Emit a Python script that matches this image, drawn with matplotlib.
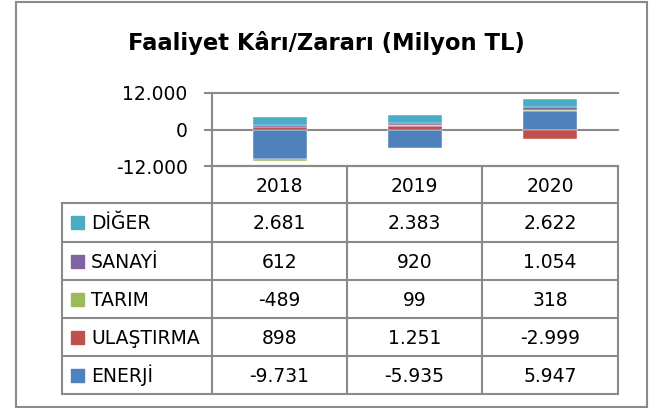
import matplotlib
matplotlib.use("Agg")
import matplotlib.pyplot as plt
from matplotlib.lines import Line2D
from matplotlib.patches import Rectangle
import numpy as np

plt.rcParams["font.family"] = ["DejaVu Sans"]

years = ["2018", "2019", "2020"]
sectors = ["ENERJİ", "ULAŞTIRMA", "TARIM", "SANAYİ", "DİĞER"]
enerji = [-9731, -5935, 5947]
ulastirma = [898, 1251, -2999]
tarim = [-489, 99, 318]
sanayi = [612, 920, 1054]
diger = [2681, 2383, 2622]
colors = ["#4F81BD", "#C0504D", "#9BBB59", "#8064A2", "#4BACC6"]
yticks = [-12000, 0, 12000]
title = "Faaliyet Kârı/Zararı (Milyon TL)"

series = [enerji, ulastirma, tarim, sanayi, diger]

W, H = 655, 408
fig = plt.figure(figsize=(W / 100, H / 100), dpi=100)
grid_c = "#8a8a8a"
fs = 13.5


def fx(x):
    return x / W


def fy(y):
    return 1 - y / H


def fmt(v):
    return f"{v:,}".replace(",", ".")


# outer frame
fig.add_artist(Rectangle((fx(16), fy(407)), fx(647) - fx(16), fy(2) - fy(407),
                         transform=fig.transFigure, fill=False,
                         edgecolor="#8a8a8a", lw=1.5))

fig.text(fx(326.5), fy(50), title, ha="center", va="baseline",
         fontsize=16.3, fontweight="bold")

# plot area
x_left, x_right = 212, 618
y_top, y_bot = 93, 166
ax = fig.add_axes([fx(x_left), fy(y_bot), fx(x_right) - fx(x_left), fy(y_top) - fy(y_bot)])
ax.set_xlim(-0.5, len(years) - 0.5)
ax.set_ylim(-12000, 12000)
for s in ["top", "right", "bottom"]:
    ax.spines[s].set_visible(False)
ax.spines["left"].set_color(grid_c)
ax.spines["left"].set_linewidth(1.5)
ax.set_xticks([])
ax.set_yticks(yticks)
ax.set_yticklabels([fmt(t) for t in yticks], fontsize=fs)
ax.tick_params(axis="y", length=5.5, width=1.5, color=grid_c, pad=12)
for t in yticks:
    ax.axhline(t, color=grid_c, lw=1.5, zorder=0, clip_on=False)

x = np.arange(len(years))
pos_base = np.zeros(len(years))
neg_base = np.zeros(len(years))
for vals, c in zip(series, colors):
    vals = np.array(vals, dtype=float)
    bottom = np.where(vals >= 0, pos_base, neg_base)
    ax.bar(x, vals, bottom=bottom, width=0.4, color=c, edgecolor="white",
           linewidth=0.3, zorder=2)
    pos_base = pos_base + np.where(vals >= 0, vals, 0)
    neg_base = neg_base + np.where(vals < 0, vals, 0)

# data table
col_edges = [212, 347, 482, 618]
row_edges = [166, 203, 242, 280, 318, 356, 394]
label_left = 62


def hline(y, x0, x1):
    fig.add_artist(Line2D([fx(x0), fx(x1)], [fy(y), fy(y)], transform=fig.transFigure,
                          color=grid_c, lw=1.5))


def vline(x, y0, y1):
    fig.add_artist(Line2D([fx(x), fx(x)], [fy(y0), fy(y1)], transform=fig.transFigure,
                          color=grid_c, lw=1.5))


hline(row_edges[0], col_edges[0], col_edges[-1])
for y in row_edges[1:]:
    hline(y, label_left, col_edges[-1])
vline(label_left, row_edges[1], row_edges[-1])
for xe in col_edges:
    vline(xe, row_edges[0], row_edges[-1])

for i, yr in enumerate(years):
    cx = (col_edges[i] + col_edges[i + 1]) / 2
    base = (row_edges[0] + row_edges[1]) / 2 + 7
    fig.text(fx(cx), fy(base), yr, ha="center", va="baseline", fontsize=fs)

# table rows top-to-bottom: reverse series order
for r, k in enumerate(reversed(range(len(sectors)))):
    base = (row_edges[r + 1] + row_edges[r + 2]) / 2 + 6.5
    fig.add_artist(Rectangle((fx(71), fy(base)), fx(13), 13 / H,
                             transform=fig.transFigure, color=colors[k]))
    fig.text(fx(91), fy(base), sectors[k], ha="left", va="baseline", fontsize=fs)
    for i in range(len(years)):
        cx = (col_edges[i] + col_edges[i + 1]) / 2
        fig.text(fx(cx), fy(base), fmt(series[k][i]), ha="center", va="baseline",
                 fontsize=fs)

fig.savefig("out.png", dpi=100)
